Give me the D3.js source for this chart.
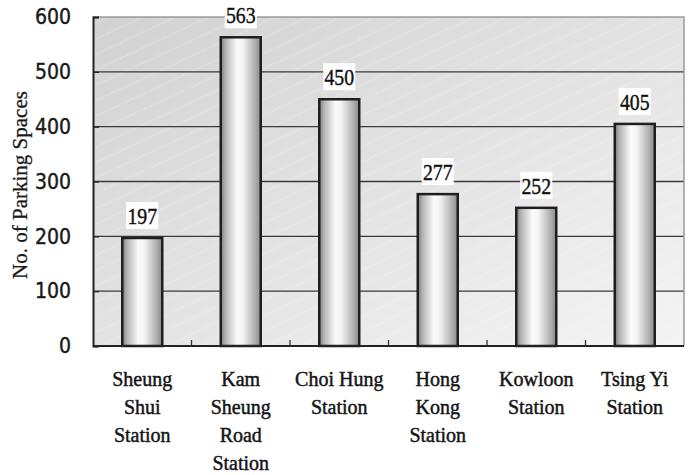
<!DOCTYPE html>
<html>
<head>
<meta charset="utf-8">
<script src="https://cdn.jsdelivr.net/npm/d3@7/dist/d3.min.js"></script>
<style>
  body { margin: 0; background: #fff; }
  svg { display: block; }
</style>
</head>
<body>
<div id="chart"></div>
<script>
// Data
const stations = [
    ['Sheung', 'Shui', 'Station'],
    ['Kam', 'Sheung', 'Road', 'Station'],
    ['Choi Hung', 'Station'],
    ['Hong', 'Kong', 'Station'],
    ['Kowloon', 'Station'],
    ['Tsing Yi', 'Station']
];
const spaces = [197, 563, 450, 277, 252, 405];
const yTicks = [0, 100, 200, 300, 400, 500, 600];

// Width, height and margins
const svgWidth = 691;
const svgHeight = 475;
const margin = { top: 17, right: 7, bottom: 129, left: 93 };
const innerWidth = svgWidth - margin.left - margin.right;
const innerHeight = svgHeight - margin.top - margin.bottom;

const svg = d3.select('#chart')
    .append('svg')
    .attr('width', svgWidth)
    .attr('height', svgHeight);

const defs = svg.append('defs');

// background gradient, darker top-left
const bg = defs.append('linearGradient')
    .attr('id', 'bg')
    .attr('x1', '0%').attr('y1', '0%')
    .attr('x2', '100%').attr('y2', '100%');
bg.append('stop').attr('offset', '0%').attr('stop-color', '#d2d2d2');
bg.append('stop').attr('offset', '100%').attr('stop-color', '#f4f4f4');

// faint diagonal streaks
const pat = defs.append('pattern')
    .attr('id', 'streaks')
    .attr('patternUnits', 'userSpaceOnUse')
    .attr('width', 14).attr('height', 14)
    .attr('patternTransform', 'rotate(-25)');
pat.append('line')
    .attr('x1', 0).attr('y1', 7).attr('x2', 14).attr('y2', 7)
    .attr('stroke', '#fff')
    .attr('stroke-opacity', 0.55)
    .attr('stroke-width', 0.8)
    .attr('stroke-dasharray', '2,1.5');

// cylinder look for the bars
const barGrad = defs.append('linearGradient')
    .attr('id', 'bar')
    .attr('x1', '0%').attr('y1', '0%')
    .attr('x2', '100%').attr('y2', '0%');
[['0%', '#7c7c7c'], ['12%', '#b4b4b4'], ['40%', '#fbfbfb'], ['55%', '#f4f4f4'],
 ['85%', '#b0b0b0'], ['100%', '#8a8a8a']].forEach(s => {
    barGrad.append('stop').attr('offset', s[0]).attr('stop-color', s[1]);
});

const g = svg.append('g')
    .attr('transform', `translate(${margin.left}, ${margin.top})`);

// Scales
const xScale = d3.scaleBand()
    .domain(d3.range(stations.length))
    .range([0, innerWidth]);

const yScale = d3.scaleLinear()
    .domain([0, 600])
    .range([innerHeight, 0]);

// plot background
g.append('rect')
    .attr('width', innerWidth)
    .attr('height', innerHeight)
    .attr('fill', 'url(#bg)');
g.append('rect')
    .attr('width', innerWidth)
    .attr('height', innerHeight)
    .attr('fill', 'url(#streaks)');

// gridlines
g.append('g')
    .selectAll('line')
    .data(yTicks.filter(d => d > 0 && d < 600))
    .join('line')
    .attr('x1', 0).attr('x2', innerWidth)
    .attr('y1', d => yScale(d)).attr('y2', d => yScale(d))
    .attr('stroke', '#3a3a3a')
    .attr('stroke-width', 1.3);

// top and right border
g.append('path')
    .attr('d', `M0,0H${innerWidth}V${innerHeight}`)
    .attr('fill', 'none')
    .attr('stroke', '#9a9a9a')
    .attr('stroke-width', 1.5);

// Bars
const barWidth = 40;
g.append('g')
    .selectAll('rect')
    .data(spaces)
    .join('rect')
    .attr('x', (d, i) => xScale(i) + xScale.bandwidth() / 2 - barWidth / 2)
    .attr('y', d => yScale(d))
    .attr('width', barWidth)
    .attr('height', d => innerHeight - yScale(d))
    .attr('fill', 'url(#bar)')
    .attr('stroke', '#1e1e1e')
    .attr('stroke-width', 2.5);

// Y axis
const yAxis = d3.axisLeft(yScale)
    .tickValues(yTicks)
    .tickSize(-6)
    .tickPadding(22);
const yG = g.append('g').call(yAxis);
yG.select('.domain').attr('stroke', '#222').attr('stroke-width', 2);
yG.selectAll('.tick line').attr('stroke', '#222').attr('stroke-width', 1.3);
yG.selectAll('.tick text')
    .style('font-family', '"Liberation Sans Narrow", "DejaVu Sans Condensed", sans-serif')
    .style('font-size', '21px')
    .attr('fill', '#1a1a1a')
    .attr('stroke', '#1a1a1a')
    .attr('stroke-width', 0.4);

// X axis line and inward ticks at category boundaries
g.append('line')
    .attr('x1', 0).attr('x2', innerWidth)
    .attr('y1', innerHeight).attr('y2', innerHeight)
    .attr('stroke', '#222')
    .attr('stroke-width', 2);
g.append('g')
    .selectAll('line')
    .data(d3.range(1, stations.length))
    .join('line')
    .attr('x1', i => xScale(i)).attr('x2', i => xScale(i))
    .attr('y1', innerHeight).attr('y2', innerHeight - 6)
    .attr('stroke', '#333')
    .attr('stroke-width', 1.3);

// Category labels, one text per line
const labelLines = [];
stations.forEach((lines, i) => {
    lines.forEach((t, j) => labelLines.push({ i: i, j: j, t: t }));
});
g.append('g')
    .selectAll('text')
    .data(labelLines)
    .join('text')
    .attr('x', d => xScale(d.i) + xScale.bandwidth() / 2)
    .attr('y', d => innerHeight + 40 + d.j * 28)
    .attr('text-anchor', 'middle')
    .style('font-family', '"Liberation Serif", "Times New Roman", serif')
    .style('font-size', '20px')
    .attr('fill', '#151515')
    .attr('stroke', '#151515')
    .attr('stroke-width', 0.45)
    .text(d => d.t);

// Value labels with white boxes
const valueG = g.append('g')
    .selectAll('g')
    .data(spaces)
    .join('g')
    .attr('transform', (d, i) =>
        `translate(${xScale(i) + xScale.bandwidth() / 2}, ${yScale(d) - 14})`);
valueG.append('rect')
    .attr('x', -16).attr('y', -22)
    .attr('width', 32).attr('height', 27)
    .attr('fill', '#fff');
valueG.append('text')
    .attr('text-anchor', 'middle')
    .attr('transform', 'scale(0.86, 1)')
    .style('font-family', '"Liberation Serif", "Times New Roman", serif')
    .style('font-size', '23px')
    .attr('fill', '#111')
    .attr('stroke', '#111')
    .attr('stroke-width', 0.4)
    .text(d => d);

// Y-axis title
svg.append('text')
    .attr('transform', 'rotate(-90)')
    .attr('x', -185)
    .attr('y', 27)
    .attr('text-anchor', 'middle')
    .style('font-family', '"Liberation Serif", "Times New Roman", serif')
    .style('font-size', '21px')
    .attr('fill', '#1a1a1a')
    .attr('stroke', '#1a1a1a')
    .attr('stroke-width', 0.3)
    .text('No. of Parking Spaces');
</script>
</body>
</html>
